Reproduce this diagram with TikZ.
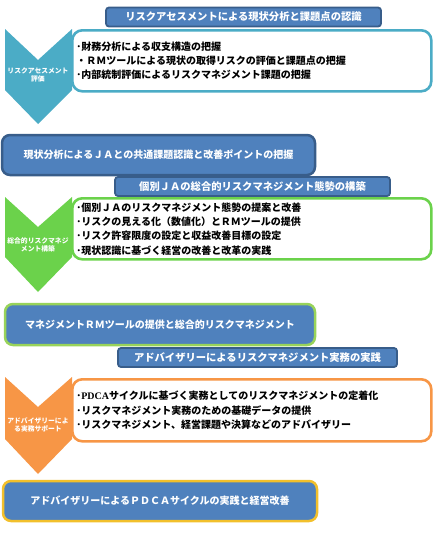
\documentclass[tikz,border=0pt]{standalone}
\usepackage{fontspec}
\setmainfont{Noto Sans CJK JP}
\newfontfamily\pdcafont{Liberation Serif}
\definecolor{hdrblue}{HTML}{4F81BD}
\definecolor{hdrline}{HTML}{385D8A}
\definecolor{tealc}{HTML}{4BACC6}
\definecolor{grnc}{HTML}{6BD24B}
\definecolor{lgrnc}{HTML}{98D35A}
\definecolor{orgc}{HTML}{F79646}
\definecolor{goldc}{HTML}{F2C02C}
\tikzset{
  hdrbox/.style={draw=hdrline, line width=1.8pt, fill=hdrblue, rounded corners=3pt,
    text=white, font=\bfseries\fontsize{10.3}{12}\selectfont, inner sep=0pt,
    minimum height=19pt},
  bigbox/.style={draw=#1, line width=2.5pt, fill=hdrblue, rounded corners=8pt,
    text=white, font=\bfseries\fontsize{10}{12}\selectfont, inner sep=0pt},
  wbox/.style={draw=#1, line width=2.6pt, fill=white, rounded corners=10pt,
    anchor=north west, minimum width=359pt, text width=351pt, inner xsep=4pt,
    align=left, font=\bfseries\fontsize{10}{14.3}\selectfont},
  chevlabel/.style={text=white, font=\bfseries\fontsize{6.8}{7.2}\selectfont,
    align=center, inner sep=0pt}
}
\begin{document}
\begin{tikzpicture}[x=1pt,y=-1pt]
\useasboundingbox (0,0) rectangle (437,533);
% ---------- section 1 ----------
\node[hdrbox, minimum width=275pt] (h1) at (243.5,17)
  {リスクアセスメントによる現状分析と課題点の認識};
\fill[tealc] (5,29) -- (38,60) -- (72,29) -- (72,90) -- (38,124) -- (5,90) -- cycle;
\node[wbox=tealc, minimum height=61pt] (w1) at (71,29)
  {･財務分析による収支構造の把握\\
   ・ＲＭツールによる現状の取得リスクの評価と課題点の把握\\
   ･内部統制評価によるリスクマネジメント課題の把握};
\node[chevlabel] (c1) at (38,75) {リスクアセスメント\\評価};
\node[bigbox=hdrline, minimum width=313pt, minimum height=40pt] (b1) at (158.5,155)
  {現状分析によるＪＡとの共通課題認識と改善ポイントの把握};
% ---------- section 2 ----------
\node[hdrbox, minimum width=275pt] (h2) at (252.5,186.5)
  {個別ＪＡの総合的リスクマネジメント態勢の構築};
\fill[grnc] (5,197) -- (38,227) -- (72,197) -- (72,257) -- (38,292) -- (5,257) -- cycle;
\node[wbox=grnc, minimum height=61pt] (w2) at (71,197)
  {･個別ＪＡのリスクマネジメント態勢の提案と改善\\
   ･リスクの見える化（数値化）とＲＭツールの提供\\
   ･リスク許容限度の設定と収益改善目標の設定\\
   ･現状認識に基づく経営の改善と改革の実践};
\node[chevlabel] (c2) at (38,245) {総合的リスクマネジ\\メント構築};
\node[bigbox=lgrnc, minimum width=310pt, minimum height=41pt] (b2) at (160,324.5)
  {マネジメントＲＭツールの提供と総合的リスクマネジメント};
% ---------- section 3 ----------
\node[hdrbox, minimum width=279pt] (h3) at (257.5,357.5)
  {アドバイザリーによるリスクマネジメント実務の実践};
\fill[orgc] (5,377) -- (38,407) -- (72,377) -- (72,439) -- (38,474) -- (5,439) -- cycle;
\node[wbox=orgc, minimum height=62pt] (w3) at (71,378)
  {･{\pdcafont\bfseries PDCA}サイクルに基づく実務としてのリスクマネジメントの定着化\\
   ･リスクマネジメント実務のための基礎データの提供\\
   ･リスクマネジメント、経営課題や決算などのアドバイザリー};
\node[chevlabel] (c3) at (38,425) {アドバイザリーによ\\る実務サポート};
\node[bigbox=goldc, minimum width=314pt, minimum height=40pt] (b3) at (160,501)
  {アドバイザリーによるＰＤＣＡサイクルの実践と経営改善};
\end{tikzpicture}
\end{document}
